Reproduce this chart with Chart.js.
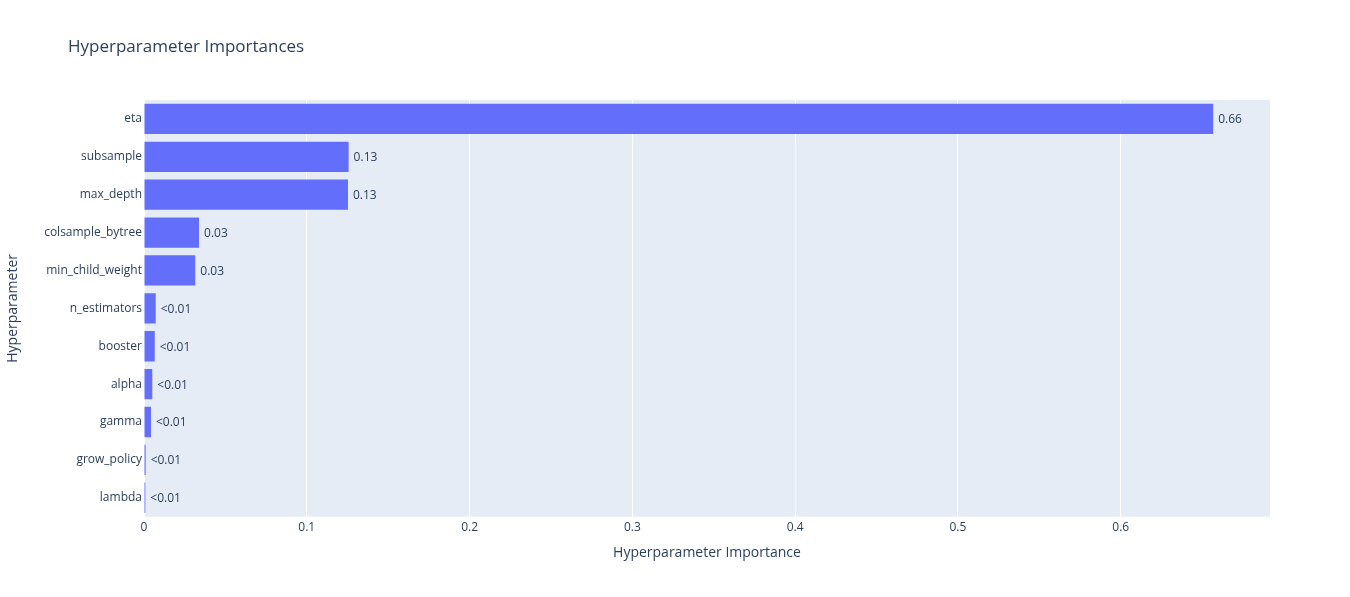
<!DOCTYPE html>
<html>
<head>
<meta charset="utf-8">
<script src="https://cdn.jsdelivr.net/npm/chart.js@4"></script>
<style>
  html, body { margin: 0; padding: 0; background: #fff; }
  #wrap { width: 1350px; height: 597px; }
</style>
</head>
<body>
<div id="wrap"><canvas id="importanceChart"></canvas></div>
<script>
// data
var paramNames = ['eta', 'subsample', 'max_depth', 'colsample_bytree', 'min_child_weight',
  'n_estimators', 'booster', 'alpha', 'gamma', 'grow_policy', 'lambda'];
var importances = [0.6568, 0.1257, 0.1253, 0.0338, 0.0315, 0.0072, 0.0066, 0.0051, 0.0043, 0.0010, 0.0008];
var xTicks = [0, 0.1, 0.2, 0.3, 0.4, 0.5, 0.6];
var xMax = 0.6917;

var fontFamily = '"Open Sans", verdana, arial, sans-serif';
var textColor = '#2a3f5f';

function labelFor(v) {
  return v < 0.01 ? '<0.01' : v.toFixed(2);
}

// plot background
var plotBg = {
  id: 'plotBg',
  beforeDraw: function (chart) {
    var a = chart.chartArea, ctx = chart.ctx;
    ctx.save();
    ctx.fillStyle = '#E5ECF6';
    ctx.fillRect(a.left, a.top, a.right - a.left, a.bottom - a.top);
    ctx.restore();
  }
};

// value text next to each bar + title
var barText = {
  id: 'barText',
  afterDatasetsDraw: function (chart) {
    var ctx = chart.ctx;
    var meta = chart.getDatasetMeta(0);
    ctx.save();
    ctx.font = '12px ' + fontFamily;
    ctx.fillStyle = textColor;
    ctx.textAlign = 'left';
    ctx.textBaseline = 'middle';
    meta.data.forEach(function (bar, i) {
      ctx.fillText(labelFor(importances[i]), bar.x + 5, bar.y + 1);
    });
    ctx.font = '17px ' + fontFamily;
    ctx.textBaseline = 'alphabetic';
    ctx.fillText('Hyperparameter Importances', 68, 51.5);
    ctx.restore();
  }
};

var chartConfig = {
  type: 'bar',
  data: {
    labels: paramNames,
    datasets: [{
      data: importances,
      backgroundColor: '#636efa',
      borderWidth: 0,
      categoryPercentage: 1,
      barPercentage: 0.8
    }]
  },
  options: {
    indexAxis: 'y',
    responsive: true,
    maintainAspectRatio: false,
    animation: false,
    layout: { padding: { top: 100, right: 80, bottom: 0, left: 0 } },
    plugins: {
      legend: { display: false },
      tooltip: { enabled: false }
    },
    scales: {
      x: {
        type: 'linear',
        min: 0,
        max: xMax,
        afterFit: function (s) { s.height = 80.3; },
        afterBuildTicks: function (s) {
          s.ticks = xTicks.map(function (v) { return { value: v }; });
        },
        ticks: {
          padding: 4,
          color: textColor,
          font: { family: fontFamily, size: 12 }
        },
        grid: { color: '#ffffff', lineWidth: 1, drawTicks: false },
        border: { display: false },
        title: {
          display: true,
          text: 'Hyperparameter Importance',
          color: textColor,
          font: { family: fontFamily, size: 14 },
          padding: { top: 0, bottom: 35.8 }
        }
      },
      y: {
        afterFit: function (s) { s.width = 144; },
        ticks: {
          padding: 2,
          color: textColor,
          font: { family: fontFamily, size: 12 }
        },
        grid: { display: false, drawTicks: false },
        border: { display: false },
        title: {
          display: true,
          text: 'Hyperparameter',
          color: textColor,
          font: { family: fontFamily, size: 14 },
          padding: { top: 4.6, bottom: 0 }
        }
      }
    }
  },
  plugins: [plotBg, barText]
};

var importanceChart = new Chart(
  document.getElementById('importanceChart'),
  chartConfig
);
</script>
</body>
</html>
